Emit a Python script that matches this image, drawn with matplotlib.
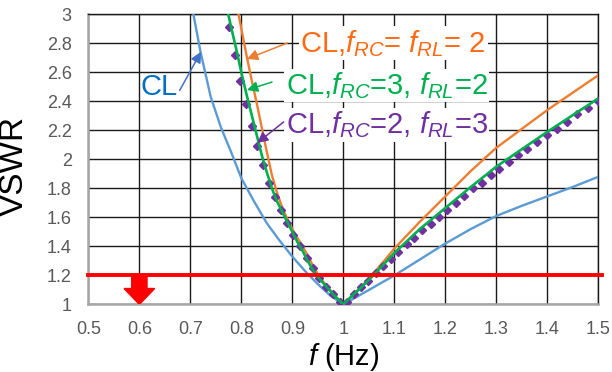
import matplotlib.pyplot as plt
from matplotlib.patches import FancyArrow

plt.rcParams['font.family'] = 'Liberation Sans'
plt.rcParams['mathtext.fontset'] = 'custom'
plt.rcParams['mathtext.rm'] = 'Liberation Sans'
plt.rcParams['mathtext.it'] = 'Liberation Sans:italic'

# CL
f_cl = [0.700, 0.706, 0.72, 0.74, 0.76, 0.78, 0.80, 0.825, 0.85, 0.875, 0.90, 0.925, 0.95, 0.975,
        1.00, 1.025, 1.05, 1.075, 1.10, 1.15, 1.20, 1.25, 1.30, 1.35, 1.40, 1.45, 1.50]
v_cl = [3.12, 3.00, 2.74, 2.43, 2.22, 2.05, 1.87, 1.71, 1.56, 1.44, 1.33, 1.23, 1.14, 1.06,
        1.00, 1.05, 1.10, 1.15, 1.20, 1.31, 1.42, 1.52, 1.61, 1.68, 1.745, 1.81, 1.88]

# CL, fRC = fRL = 2
f_22 = [0.790, 0.80, 0.81, 0.82, 0.83, 0.84, 0.85, 0.86, 0.87, 0.88, 0.89, 0.90, 0.91, 0.92,
        0.93, 0.94, 0.95, 0.96, 0.97, 0.98, 0.99, 1.00, 1.01, 1.02, 1.03, 1.04, 1.05, 1.06,
        1.08, 1.10, 1.15, 1.20, 1.25, 1.30, 1.35, 1.40, 1.45, 1.50]
v_22 = [3.08, 2.90, 2.72, 2.55, 2.39, 2.22, 2.05, 1.89, 1.77, 1.67, 1.59, 1.52, 1.46, 1.40,
        1.34, 1.27, 1.21, 1.16, 1.115, 1.075, 1.035, 1.01, 1.035, 1.07, 1.105, 1.14, 1.18, 1.22,
        1.30, 1.385, 1.57, 1.745, 1.92, 2.08, 2.21, 2.34, 2.46, 2.58]

# CL, fRC = 3, fRL = 2
f_32 = [0.770, 0.78, 0.79, 0.80, 0.81, 0.82, 0.83, 0.84, 0.85, 0.86, 0.87, 0.88, 0.89, 0.90,
        0.91, 0.92, 0.93, 0.94, 0.95, 0.96, 0.97, 0.98, 0.99, 1.00, 1.01, 1.02, 1.03, 1.04,
        1.05, 1.06, 1.08, 1.10, 1.15, 1.20, 1.25, 1.30, 1.35, 1.40, 1.45, 1.50]
v_32 = [3.07, 2.91, 2.76, 2.60, 2.45, 2.31, 2.17, 2.03, 1.91, 1.80, 1.71, 1.64, 1.57, 1.50,
        1.43, 1.37, 1.30, 1.24, 1.19, 1.15, 1.11, 1.07, 1.035, 1.00, 1.035, 1.07, 1.10, 1.135,
        1.17, 1.205, 1.28, 1.355, 1.52, 1.665, 1.81, 1.95, 2.07, 2.19, 2.305, 2.42]

# CL, fRC = 2, fRL = 3 (diamond markers)
f_23 = [0.776, 0.787, 0.798, 0.809, 0.820, 0.831, 0.843, 0.854, 0.866, 0.878, 0.890, 0.902,
        0.915, 0.928, 0.940, 0.953, 0.966, 0.980, 0.993, 1.007, 1.021, 1.035, 1.049, 1.064,
        1.078, 1.093, 1.108, 1.124, 1.139, 1.155, 1.171, 1.187, 1.203, 1.220, 1.237, 1.254,
        1.271, 1.289, 1.306, 1.324, 1.343, 1.361, 1.380, 1.399, 1.419, 1.438, 1.458, 1.479, 1.499]
v_23 = [2.915, 2.72, 2.54, 2.38, 2.23, 2.09, 1.96, 1.84, 1.74, 1.65, 1.56, 1.48,
        1.40, 1.32, 1.25, 1.18, 1.12, 1.07, 1.02, 1.02, 1.07, 1.12, 1.165, 1.215,
        1.265, 1.315, 1.365, 1.415, 1.46, 1.51, 1.555, 1.60, 1.65, 1.70, 1.75, 1.80,
        1.84, 1.89, 1.935, 1.98, 2.03, 2.075, 2.12, 2.165, 2.21, 2.26, 2.31, 2.355, 2.40]

limit_vswr = 1.2
arrow_f = 0.6

x_ticks = [0.5, 0.6, 0.7, 0.8, 0.9, 1.0, 1.1, 1.2, 1.3, 1.4, 1.5]
x_labels = ['0.5', '0.6', '0.7', '0.8', '0.9', '1', '1.1', '1.2', '1.3', '1.4', '1.5']
y_ticks = [1.0, 1.2, 1.4, 1.6, 1.8, 2.0, 2.2, 2.4, 2.6, 2.8, 3.0]
y_labels = ['1', '1.2', '1.4', '1.6', '1.8', '2', '2.2', '2.4', '2.6', '2.8', '3']

fig = plt.figure(figsize=(6.12, 3.72), dpi=100)
ax = fig.add_axes([0.1444, 0.1815, 0.8332, 0.7801])

ax.plot(f_cl, v_cl, color='#5B9BD5', lw=1.7, zorder=3)
ax.plot(f_22, v_22, color='#ED7D31', lw=1.7, zorder=3)
ax.plot(f_23, v_23, color='#7030A0', lw=0, marker='D', ms=4.3, zorder=3)
ax.plot(f_32, v_32, color='#00B050', lw=1.9, zorder=4)

ax.axhline(limit_vswr, xmin=0, xmax=1.007, color='#FF0000', lw=2.8, clip_on=False, zorder=5)
ax.add_patch(FancyArrow(arrow_f, limit_vswr, 0, 1.0 - limit_vswr, width=0.03, head_width=0.06,
                        head_length=0.11, length_includes_head=True, color='#FF0000', zorder=5))

ax.set_xlim(0.5, 1.5)
ax.set_ylim(1, 3)
ax.set_xticks(x_ticks)
ax.set_xticklabels(x_labels)
ax.set_yticks(y_ticks)
ax.set_yticklabels(y_labels)
ax.tick_params(length=0, labelsize=13, labelcolor='#595959')
ax.tick_params(axis='x', pad=12)
ax.tick_params(axis='y', pad=12)
ax.grid(color='#1a1a1a', lw=1.0, zorder=1)
ax.set_axisbelow(True)
for s in ['left', 'bottom']:
    ax.spines[s].set_color('#A6A6A6')
    ax.spines[s].set_linewidth(1.8)
for s in ['top', 'right']:
    ax.spines[s].set_color('#1a1a1a')
    ax.spines[s].set_linewidth(1.0)

ax.set_xlabel('$f$ (Hz)', fontsize=21, va='center')
ax.xaxis.set_label_coords(0.5, -0.182)
ax.set_ylabel('VSWR', fontsize=24)
ax.yaxis.set_label_coords(-0.115, 0.478)

box = dict(facecolor='white', edgecolor='none', pad=1)
ax.text(0.675, 2.50, 'CL', color='#0070C0', fontsize=21, ha='right', va='center', zorder=6)
ax.text(0.916, 2.80, 'CL,$f_{RC}$= $f_{RL}$= 2', color='#FF6A13', fontsize=21,
        ha='left', va='center', bbox=box, zorder=6)
ax.text(0.887, 2.51, 'CL,$f_{RC}$=3, $f_{RL}$=2', color='#00B050', fontsize=21,
        ha='left', va='center', bbox=box, zorder=6)
ax.text(0.887, 2.237, 'CL,$f_{RC}$=2, $f_{RL}$=3', color='#7030A0', fontsize=21,
        ha='left', va='center', bbox=box, zorder=6)

arrows = [((0.721, 2.742), (0.679, 2.475), '#4472C4'),
          ((0.811, 2.692), (0.890, 2.802), '#ED7D31'),
          ((0.811, 2.478), (0.860, 2.533), '#00B050'),
          ((0.831, 2.113), (0.883, 2.258), '#7030A0')]
for tip, tail, c in arrows:
    ax.annotate('', xy=tip, xytext=tail,
                arrowprops=dict(arrowstyle='-|>', color=c, lw=1.1, mutation_scale=16,
                                shrinkA=0, shrinkB=0), zorder=7)

fig.savefig('out.png', dpi=100)
